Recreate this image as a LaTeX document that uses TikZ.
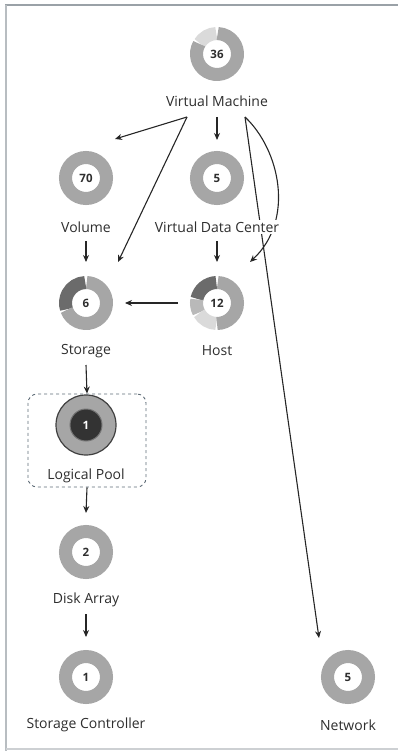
\documentclass[tikz,border=0pt]{standalone}
\usepackage{fontspec}
\setmainfont{Open Sans}
\usetikzlibrary{arrows.meta,positioning,calc,backgrounds}
\definecolor{txt}{HTML}{2E2E2E}
\definecolor{ringgray}{HTML}{A6A6A6}
\definecolor{ringlight}{HTML}{DADADA}
\definecolor{ringmid}{HTML}{B9B9B9}
\definecolor{ringdark}{HTML}{6B6B6B}
\definecolor{pooldark}{HTML}{333333}
\definecolor{framec}{HTML}{9AA1A7}
\definecolor{boxc}{HTML}{5E6B76}

\tikzset{
  ring/.style={circle, minimum size=54pt, inner sep=0pt, text=txt,
    font=\fontsize{11.5}{12}\selectfont\bfseries},
  lbl/.style={text=txt, fill=white, inner sep=1.5pt, font=\fontsize{14}{15}\selectfont},
  link/.style={-{Stealth[length=7pt,width=6pt]}, line width=1.1pt, draw=black!85},
}
% one coloured piece of a ring: node, start angle, end angle, colour
\newcommand{\seg}[4]{%
  \draw[line width=13pt, #4] ($(#1)+(#2:20.5pt)$) arc[start angle=#2, end angle=#3, radius=20.5pt];}
% a ring in one colour
\newcommand{\fullring}[1]{\draw[line width=13pt, ringgray] (#1) circle (20.5pt);}

\begin{document}
\begin{tikzpicture}[x=1pt, y=1pt]
        \useasboundingbox (0,0) rectangle (398,-751);
        % Frame
        \draw[framec, line width=1.5pt] (5,-5) -- (398,-5);
        \draw[framec!70, line width=1.5pt] (6,-5) -- (6,-751);
        \draw[framec!50, line width=1.2pt] (6,-749) -- (398,-749);

        % Rings
        \node[ring] (vm) at (217,-54) {36};
        \seg{vm}{92}{148}{ringlight}
        \seg{vm}{150}{448}{ringgray}
        \node[ring] (vol) at (86,-178) {70};
        \fullring{vol}
        \node[ring] (vdc) at (217,-178) {5};
        \fullring{vdc}
        \node[ring] (sto) at (86,-303) {6};
        \seg{sto}{92}{198}{ringdark}
        \seg{sto}{200}{448}{ringgray}
        \node[ring] (host) at (217,-303) {12};
        \seg{host}{92}{168}{ringdark}
        \seg{host}{170}{208}{ringmid}
        \seg{host}{210}{268}{ringlight}
        \seg{host}{270}{448}{ringgray}
        \node[ring] (da) at (86,-552) {2};
        \fullring{da}
        \node[ring] (sc) at (86,-677) {1};
        \fullring{sc}
        \node[ring] (net) at (348,-677) {5};
        \fullring{net}

        % Logical Pool, the selected one
        \filldraw[fill=ringgray, draw=black!75, line width=1.2pt] (86,-425) circle (30pt);
        \filldraw[fill=pooldark, draw=black!55, line width=1pt] (86,-425) circle (16pt);
        \node[ring, text=white] (lp) at (86,-425) {1};
        \node[draw=boxc, dashed, line width=0.9pt, rounded corners=9pt,
            minimum width=118pt, minimum height=93pt] (lpbox) at (87,-440.5) {};

        % Labels (white behind, the lines pass under them)
        \node[lbl] (vmlbl) at (217,-101) {Virtual Machine};
        \node[lbl] (vollbl) at (86,-227) {Volume};
        \node[lbl] (vdclbl) at (217,-227) {Virtual Data Center};
        \node[lbl] (stolbl) at (86,-351) {Storage};
        \node[lbl] (hostlbl) at (217,-351) {Host};
        \node[lbl] (lplbl) at (86,-476) {Logical Pool};
        \node[lbl] (dalbl) at (86,-600) {Disk Array};
        \node[lbl] (sclbl) at (86,-725) {Storage Controller};
        \node[lbl] (netlbl) at (348,-725) {Network};

        % Connectors
        \begin{scope}[on background layer]
        \draw[link] ($(vmlbl)+(-30,-16)$) -- ($(vol)+(29,39)$);
        \draw[link] ($(vmlbl)+(-30,-16)$) -- ($(sto)+(32,41)$);
        \draw[link] ($(vmlbl)+(0,-16)$) -- ($(vdc)+(0,38)$);
        \draw[link] ($(vmlbl)+(28,-16)$) .. controls ($(vm)+(63,-96)$) and ($(vm)+(78,-166)$) .. ($(host)+(33,41)$);
        \draw[link] ($(vmlbl)+(28,-16)$) -- ($(net)+(-29,39)$);
        \draw[link] ($(vollbl)+(0,-14)$) -- ($(sto)+(0,41)$);
        \draw[link] ($(vdclbl)+(0,-14)$) -- ($(host)+(0,41)$);
        \draw[link] ($(host)+(-39,0)$) -- ($(sto)+(39,0)$);
        \draw[link] ($(stolbl)+(0,-14)$) -- (lpbox.north);
        \draw[link] (lpbox.south) -- ($(da)+(0,39)$);
        \draw[link] ($(dalbl)+(0,-14)$) -- ($(sc)+(0,40)$);
        \end{scope}
    \end{tikzpicture}
\end{document}
